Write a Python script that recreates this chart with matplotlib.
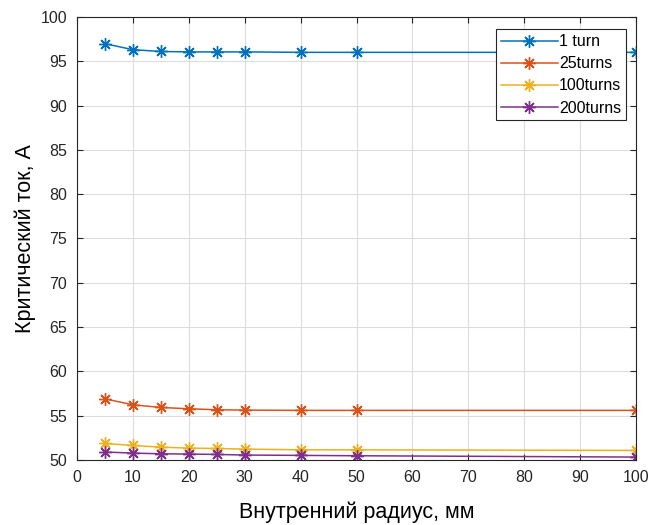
import matplotlib.pyplot as plt

plt.rcParams['font.family'] = ['Liberation Sans', 'DejaVu Sans']

radius = [5, 10, 15, 20, 25, 30, 40, 50, 100]
current_1 = [96.98, 96.3, 96.1, 96.05, 96.05, 96.05, 96.0, 96.0, 96.0]
current_25 = [56.9, 56.23, 55.93, 55.78, 55.67, 55.63, 55.6, 55.6, 55.6]
current_100 = [51.87, 51.64, 51.45, 51.34, 51.3, 51.23, 51.15, 51.15, 51.08]
current_200 = [50.9, 50.78, 50.7, 50.67, 50.63, 50.56, 50.52, 50.48, 50.33]
labels = ['1 turn', '25turns', '100turns', '200turns']
colors = ['#0072BD', '#D95319', '#EDB120', '#7E2F8E']

fig = plt.figure(figsize=(6.54, 5.25), dpi=100)
ax = fig.add_axes([0.1177, 0.1238, 0.855, 0.844])

# matlab-like asterisk marker
for y, lab, c in zip([current_1, current_25, current_100, current_200], labels, colors):
    ax.plot(radius, y, color=c, marker=(8, 2, 0), markersize=9, markeredgewidth=1.0,
            lw=1.1, label=lab)

ax.set_xlim(0, 100)
ax.set_ylim(50, 100)
ax.set_xticks(range(0, 101, 10))
ax.set_yticks(range(50, 101, 5))
ax.grid(True, color='#dcdcdc', lw=0.8)
ax.set_axisbelow(True)
ax.tick_params(direction='in', top=True, right=True, labelsize=11.5, length=4,
               color='#262626', labelcolor='#262626', pad=7)
for s in ax.spines.values():
    s.set_color('#262626')
    s.set_linewidth(0.8)

ax.set_xlabel('Внутренний радиус, мм', fontsize=15.5, labelpad=12)
ax.set_ylabel('Критический ток, А', fontsize=15.5, labelpad=3)

leg = ax.legend(loc='upper right', bbox_to_anchor=(0.982, 0.972), fontsize=11.5,
                fancybox=False, framealpha=1, edgecolor='#262626',
                handlelength=3.6, handletextpad=0.05, borderpad=0.3, labelspacing=0.45,
                borderaxespad=0)
leg.get_frame().set_linewidth(0.8)

fig.savefig('out.png', dpi=100)
